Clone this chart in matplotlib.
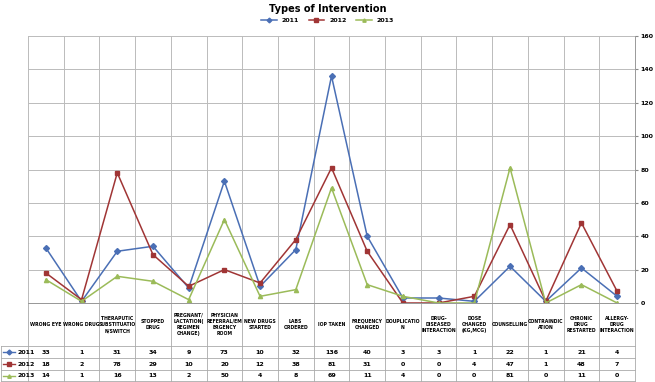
import matplotlib.pyplot as plt
import numpy as np

categories = ["WRONG EYE", "WRONG DRUG", "THERAPUTIC\nSUBSTITUATIO\nN/SWITCH", "STOPPED\nDRUG",
              "PREGNANT/\nLACTATION(\nREGIMEN\nCHANGE)", "PHYSICIAN\nREFERRAL/EM\nERGENCY\nROOM",
              "NEW DRUGS\nSTARTED", "LABS\nORDERED", "IOP TAKEN", "FREQUENCY\nCHANGED",
              "DOUPLICATIO\nN", "DRUG-\nDISEASED\nINTERACTION", "DOSE\nCHANGED\n(KG,MCG)",
              "COUNSELLING", "CONTRAINDIC\nATION", "CHRONIC\nDRUG\nRESTARTED", "ALLERGY-\nDRUG\nINTERACTION"]
years = ["2011", "2012", "2013"]
v2011 = [33, 1, 31, 34, 9, 73, 10, 32, 136, 40, 3, 3, 1, 22, 1, 21, 4]
v2012 = [18, 2, 78, 29, 10, 20, 12, 38, 81, 31, 0, 0, 4, 47, 1, 48, 7]
v2013 = [14, 1, 16, 13, 2, 50, 4, 8, 69, 11, 4, 0, 0, 81, 0, 11, 0]
yticks = [0, 20, 40, 60, 80, 100, 120, 140, 160]

colors = ["#4A6FB5", "#A03535", "#9BBB59"]
markers = ["D", "s", "^"]
series = [v2011, v2012, v2013]

W, H = 655, 382
fig = plt.figure(figsize=(W / 100, H / 100), dpi=100)
left, right, top, bot = 28, 635, 36, 303
ax = fig.add_axes([left / W, 1 - bot / H, (right - left) / W, (bot - top) / H])

x = np.arange(len(categories))
for vals, c, m, lab in zip(series, colors, markers, years):
    ax.plot(x, vals, color=c, marker=m, markersize=3, linewidth=1.1, label=lab)

ax.set_xlim(-0.5, len(categories) - 0.5)
ax.set_ylim(0, 160)
ax.set_yticks(yticks)
ax.yaxis.tick_right()
ax.tick_params(axis='y', labelsize=4.5, length=2.5, color="#888888", pad=1.5)
for t in ax.get_yticklabels():
    t.set_fontweight('bold')
ax.set_xticks(np.arange(len(categories) + 1) - 0.5)
ax.tick_params(axis='x', labelbottom=False, length=0)
ax.grid(True, color="#BBBBBB", linewidth=0.7)
for s in ax.spines.values():
    s.set_color("#999999")
    s.set_linewidth(0.7)
ax.spines['top'].set_visible(False)
ax.spines['left'].set_visible(False)

fig.text(0.5, 1 - 9 / H, "Types of Intervention", ha='center', va='center',
         fontsize=7, fontweight='bold')
ax.legend(loc='upper center', bbox_to_anchor=(0.5, 1 - 15 / H), bbox_transform=fig.transFigure,
          ncol=3, frameon=False, prop={'size': 4.5, 'weight': 'bold'},
          handlelength=2.5, columnspacing=1.5, markerscale=0.8, borderaxespad=0)

# data table below the plot
def fy(ypix):
    return (bot - ypix) / (bot - top)

trans = ax.get_xaxis_transform()
row_edges = [303, 346, 358, 370, 381]
xl = -0.5 - (left - 1) / ((right - left) / len(categories))
line_kw = dict(color="#AAAAAA", linewidth=0.6, transform=trans, clip_on=False)
for i, ye in enumerate(row_edges):
    x0 = -0.5 if i == 0 else xl
    ax.plot([x0, len(categories) - 0.5], [fy(ye)] * 2, **line_kw)
for k in range(len(categories) + 1):
    ax.plot([k - 0.5] * 2, [fy(row_edges[0]), fy(row_edges[-1])], **line_kw)
ax.plot([xl, xl], [fy(row_edges[1]), fy(row_edges[-1])], **line_kw)

for k, cat in enumerate(categories):
    ax.text(k, fy((row_edges[0] + row_edges[1]) / 2), cat, transform=trans, ha='center',
            va='center', fontsize=3.3, fontweight='bold', linespacing=1.3, clip_on=False)
for r, (vals, c, m, lab) in enumerate(zip(series, colors, markers, years)):
    yc = fy((row_edges[r + 1] + row_edges[r + 2]) / 2)
    ax.plot([xl + 0.06, xl + 0.4], [yc, yc], color=c, linewidth=1, transform=trans, clip_on=False)
    ax.plot([xl + 0.23], [yc], color=c, marker=m, markersize=2.5, transform=trans, clip_on=False)
    ax.text(xl + 0.47, yc, lab, transform=trans, ha='left', va='center', fontsize=4.5,
            fontweight='bold', clip_on=False)
    for k, v in enumerate(vals):
        ax.text(k, yc, str(v), transform=trans, ha='center', va='center', fontsize=4.5,
                fontweight='bold', clip_on=False)

fig.savefig("out.png", dpi=100)
